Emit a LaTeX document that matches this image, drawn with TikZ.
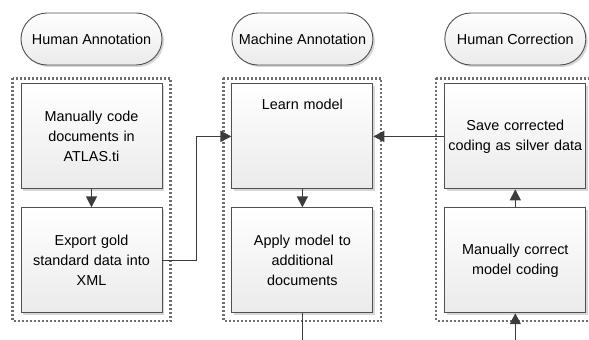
\documentclass[tikz,border=0pt]{standalone}
\usepackage{fontspec}
\setmainfont{Liberation Sans}
\usepackage{tikz}
\usetikzlibrary{positioning,arrows.meta,shadows,backgrounds,calc}
\definecolor{linegray}{HTML}{505050}
\definecolor{arrowgray}{HTML}{3C3C3C}
\definecolor{framegray}{HTML}{6E6E6E}

\begin{document}
\begin{tikzpicture}[x=1pt,y=1pt,node distance=18pt,
  every node/.style={font=\fontsize{14.4}{20}\selectfont,text=black},
  stepbox/.style={draw=linegray,line width=0.9pt,top color=white,bottom color=black!8,
    minimum width=141pt,minimum height=105pt,text width=141pt,align=center,inner sep=0pt,
    drop shadow={shadow xshift=2pt,shadow yshift=-2pt,fill=black!35,opacity=0.45}},
  pill/.style={draw=linegray,line width=0.9pt,top color=white,bottom color=black!8,
    rounded corners=26pt,minimum width=141pt,minimum height=52pt,inner sep=0pt,
    drop shadow={shadow xshift=2pt,shadow yshift=-2pt,fill=black!35,opacity=0.45}},
  frame/.style={draw=framegray,line width=2.2pt,dash pattern=on 2pt off 2pt},
  link/.style={draw=arrowgray,line width=1.5pt},
  flow/.style={link,-{Triangle[length=11pt,width=11pt]}}]
\useasboundingbox (0,0) rectangle (589,340);

% lane headers
\node[pill] (ha) at (91.5,301) {Human Annotation};
\node[pill,right=69pt of ha] (ma) {Machine Annotation};
\node[pill,right=71pt of ma] (hc) {Human Correction};

% steps
\node[stepbox,below=of ha] (code) {Manually code\\documents in\\ATLAS.ti};
\node[stepbox,below=of code] (export) {Export gold\\standard data into\\XML};
\node[stepbox,below=of ma,text depth=64pt] (learn) {Learn model};
\node[stepbox,below=of learn] (apply) {Apply model to\\additional\\documents};
\node[stepbox,below=of hc] (save) {Save corrected\\coding as silver data};
\node[stepbox,below=of save] (fix) {Manually correct\\model coding};

% lanes
\begin{scope}[on background layer]
\draw[frame] ($(code.north west)+(-8,5)$) rectangle ($(export.south east)+(8,-8)$);
\draw[frame] ($(learn.north west)+(-8,5)$) rectangle ($(apply.south east)+(8,-8)$);
\draw[frame] ($(save.north west)+(-8,5)$) rectangle ($(fix.south east)+(8,-8)$);
\end{scope}

% connectors
\coordinate (out) at (apply.south |- 0,0);
\coordinate (in) at (fix.south |- 0,0);
\draw[flow] (code) -- (export);
\draw[flow] (export.east) -- ++(34,0) |- (learn.west);
\draw[flow] (learn) -- (apply);
\draw[link] (apply) -- (out);
\draw[flow] (in) -- (fix);
\draw[flow] (fix) -- (save);
\draw[flow] (save) -- (learn);
\end{tikzpicture}
\end{document}
